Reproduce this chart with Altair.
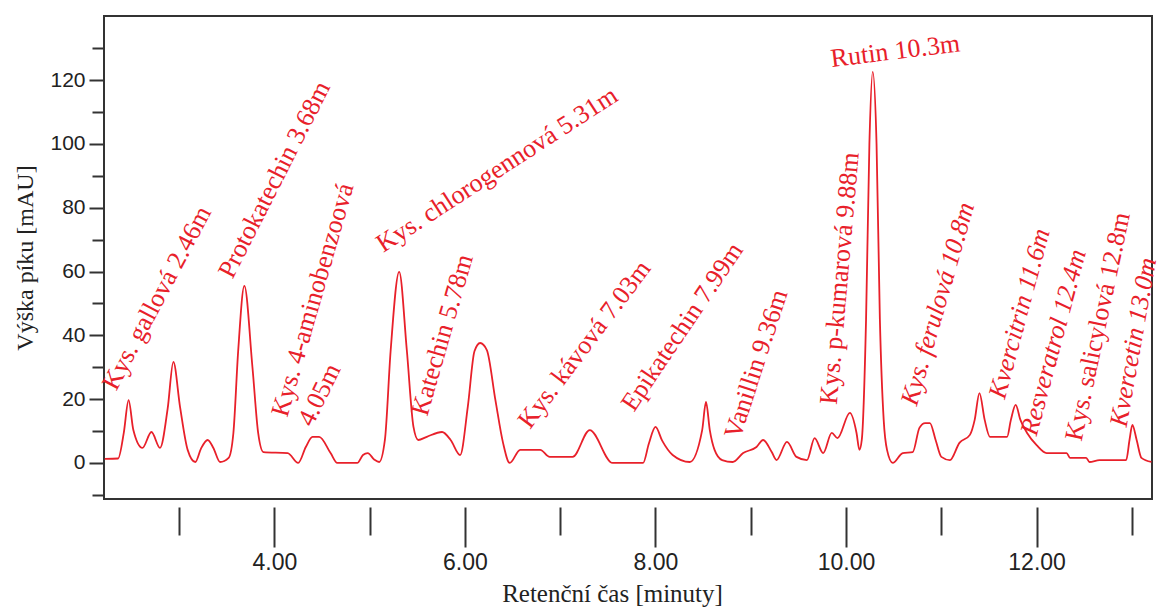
import altair as alt
import pandas as pd

# ---- chromatogram trace ----
time_min = [2.22, 2.36, 2.42, 2.47, 2.52, 2.615, 2.71, 2.80, 2.88, 2.94, 3.01, 3.09, 3.17,
            3.23, 3.30, 3.36, 3.43, 3.52, 3.57, 3.62, 3.685, 3.77, 3.83, 3.885, 4.14, 4.25,
            4.33, 4.40, 4.47, 4.59, 4.66, 4.87, 4.93, 4.98, 5.05, 5.10, 5.16, 5.22, 5.31,
            5.39, 5.46, 5.51, 5.60, 5.76, 5.85, 5.95, 6.03, 6.10, 6.16, 6.23, 6.32, 6.40,
            6.47, 6.58, 6.79, 6.89, 7.13, 7.31, 7.55, 7.87, 7.93, 8.00, 8.07, 8.18, 8.36,
            8.49, 8.53, 8.57, 8.62, 8.70, 8.81, 8.92, 9.06, 9.13, 9.22, 9.27, 9.38, 9.48,
            9.59, 9.67, 9.76, 9.85, 9.91, 10.04, 10.11, 10.14, 10.165, 10.21, 10.245, 10.28,
            10.32, 10.355, 10.395, 10.43, 10.49, 10.595, 10.70, 10.77, 10.83, 10.88, 10.94,
            11.00, 11.09, 11.19, 11.30, 11.35, 11.40, 11.455, 11.51, 11.69, 11.73, 11.78,
            11.83, 11.90, 12.00, 12.105, 12.315, 12.35, 12.52, 12.555, 12.66, 12.94, 12.975,
            13.005, 13.05, 13.10, 13.205]
height_mau = [1.3, 1.4, 9.5, 19.7, 10.3, 4.7, 9.7, 4.7, 17.0, 31.7, 17.6, 4.1, 0.3,
              4.5, 7.2, 4.7, 0.3, 1.6, 9.4, 35.0, 55.5, 30.0, 9.4, 3.4, 3.1, 0.0,
              5.0, 8.2, 8.2, 3.1, 0.0, 0.0, 2.5, 3.1, 1.0, 0.3, 7.2, 35.0, 59.9,
              35.4, 11.3, 7.2, 8.2, 9.7, 7.2, 2.5, 17.6, 35.0, 37.6, 35.4, 19.7, 6.3,
              0.0, 4.1, 4.1, 1.9, 1.9, 10.3, 0.0, 0.0, 6.0, 11.3, 7.0, 2.5, 0.3,
              10.3, 19.1, 10.3, 4.1, 0.9, 0.3, 3.1, 5.0, 7.2, 3.4, 0.9, 6.6, 1.9,
              0.9, 7.8, 3.1, 9.4, 7.8, 15.7, 9.4, 4.1, 7.2, 45.0, 100.0, 122.6,
              100.0, 45.0, 13.5, 4.1, 0.0, 3.1, 3.4, 11.0, 12.5, 12.5, 7.2,
              1.9, 0.9, 6.3, 8.8, 13.5, 21.9, 13.5, 8.2, 8.2, 13.5, 18.2,
              13.5, 9.4, 5.6, 3.1, 3.1, 1.6, 1.6, 0.3, 0.9, 0.9, 7.2,
              11.9, 7.2, 1.6, 0.3]

# ---- peak annotations ----
label_text = ["Kys. gallová 2.46m", "Protokatechin 3.68m", "Kys. 4-aminobenzoová", "4.05m",
              "Kys. chlorogennová 5.31m", "Katechin 5.78m", "Kys. kávová 7.03m",
              "Epikatechin 7.99m", "Vanillin 9.36m", "Kys. p-kumarová 9.88m", "Rutin 10.3m",
              "Kys. ferulová 10.8m", "Kvercitrin 11.6m", "Resveratrol 12.4m",
              "Kys. salicylová 12.8m", "Kvercetin 13.0m"]
label_time = [2.34, 3.56, 4.136, 4.398, 5.143, 5.604, 6.684, 7.775, 8.886, 9.903, 9.851,
              10.742, 11.665, 12.0, 12.472, 12.944]
label_height = [22.3, 57.4, 14.1, 11.0, 65.8, 14.4, 10.3, 15.7, 7.2, 18.2, 124.1,
                17.6, 19.7, 8.2, 6.6, 11.0]
label_angle = [298, 297, 286, 296, 327, 286, 307, 304, 288, 275, 353,
               286, 285, 285, 282, 280]
label_italic = [False, False, False, False, False, False, False, False, False, False, False,
                True, True, True, False, True]

# ---- axis ticks ----
x_ticks = [3, 4, 5, 6, 7, 8, 9, 10, 11, 12, 13]
y_ticks = list(range(-10, 131, 10))

trace = pd.DataFrame({"t": time_min, "v": height_mau})
labels = pd.DataFrame({"t": label_time, "v": label_height, "text": label_text,
                       "angle": label_angle, "italic": label_italic})

RED = "#e8202a"
DARK = "#333333"

xscale = alt.Scale(domain=[2.212, 13.211], nice=False, zero=False)
yscale = alt.Scale(domain=[-11.3, 140.1], nice=False, zero=False)

xaxis = alt.Axis(
    values=x_ticks, domain=False, grid=False, offset=8,
    tickSize={"condition": {"test": "datum.value % 2 === 0", "value": 40}, "value": 28},
    tickWidth=2, tickColor=DARK,
    labelExpr="datum.value % 2 === 0 ? format(datum.value, '.2f') : ''",
    labelFont="Liberation Sans", labelFontSize=23, labelColor="#222222", labelPadding=4,
    title="Retenční čas [minuty]", titleFont="Liberation Serif", titleFontSize=25,
    titleFontWeight="normal", titleColor="#222222", titlePadding=7, titleX=508,
)
yaxis = alt.Axis(
    values=y_ticks, domain=False, grid=False, offset=1,
    tickSize={"condition": {"test": "datum.value % 20 === 0", "value": 14}, "value": 11},
    tickWidth=2, tickColor=DARK,
    labelExpr="(datum.value >= 0 && datum.value <= 120 && datum.value % 20 === 0) ? datum.label : ''",
    labelFont="Liberation Sans", labelFontSize=21, labelColor="#222222", labelPadding=4,
    title="Výška píku [mAU]", titleFont="Liberation Serif", titleFontSize=24,
    titleFontWeight="normal", titleColor="#222222", titlePadding=12,
)

X = alt.X("t:Q", scale=xscale, axis=xaxis)
Y = alt.Y("v:Q", scale=yscale, axis=yaxis)

line = alt.Chart(trace).mark_line(
    color=RED, strokeWidth=1.8, interpolate="monotone"
).encode(x=X, y=Y)


def text_layer(italic):
    return alt.Chart(labels).transform_filter(
        "datum.italic" if italic else "!datum.italic"
    ).mark_text(
        align="left", baseline="alphabetic", font="Liberation Serif", fontSize=26,
        color=RED, fontStyle="italic" if italic else "normal"
    ).encode(
        x=X, y=Y, text="text:N", angle=alt.Angle("angle:Q", scale=None)
    )


chart = alt.layer(line, text_layer(False), text_layer(True)).properties(
    width=1048, height=483,
    autosize=alt.AutoSizeParams(type="none"),
    padding={"left": 104, "top": 16, "right": 11, "bottom": 109},
    background="white",
).configure_view(stroke=DARK, strokeWidth=2)

chart.save("out.html", embed_options={"renderer": "svg", "actions": False})
